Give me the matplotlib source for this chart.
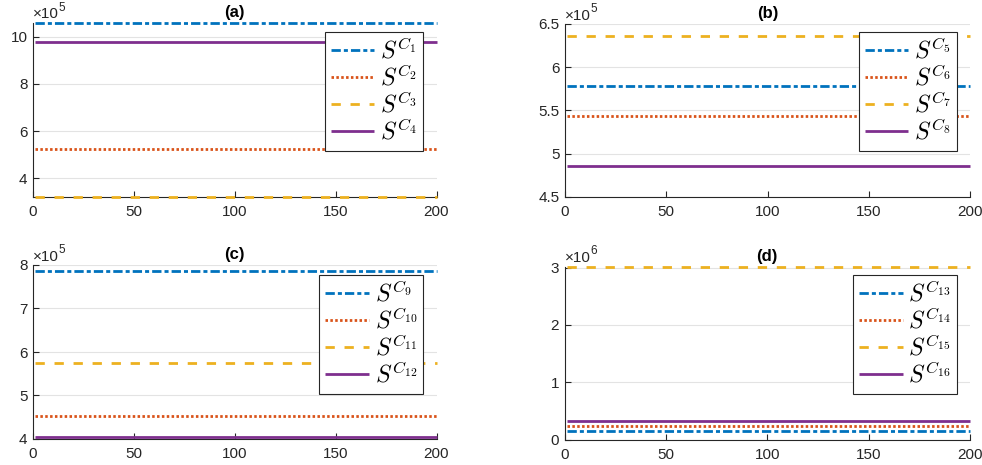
import numpy as np
import matplotlib
matplotlib.use("Agg")
import matplotlib.pyplot as plt
from matplotlib.ticker import FuncFormatter

plt.rcParams['font.family'] = ['Liberation Sans', 'DejaVu Sans']
plt.rcParams['mathtext.fontset'] = 'cm'
plt.rcParams['lines.scale_dashes'] = False

# ---- data ----
steps = np.arange(1, 201)
panel_titles = ['(a)', '(b)', '(c)', '(d)']
series_labels = [
    [r'$S^{C_{1}}$', r'$S^{C_{2}}$', r'$S^{C_{3}}$', r'$S^{C_{4}}$'],
    [r'$S^{C_{5}}$', r'$S^{C_{6}}$', r'$S^{C_{7}}$', r'$S^{C_{8}}$'],
    [r'$S^{C_{9}}$', r'$S^{C_{10}}$', r'$S^{C_{11}}$', r'$S^{C_{12}}$'],
    [r'$S^{C_{13}}$', r'$S^{C_{14}}$', r'$S^{C_{15}}$', r'$S^{C_{16}}$'],
]
values_a = [10.6e5, 5.23e5, 3.2e5, 9.8e5]
values_b = [5.78e5, 5.43e5, 6.36e5, 4.85e5]
values_c = [7.87e5, 4.52e5, 5.75e5, 4.04e5]
values_d = [0.157e6, 0.238e6, 3.02e6, 0.33e6]
ylims = [(3.2e5, 10.6e5), (4.5e5, 6.5e5), (4.0e5, 8.0e5), (0.0, 3.02e6)]
yticks = [[4e5, 6e5, 8e5, 10e5], [4.5e5, 5e5, 5.5e5, 6e5, 6.5e5],
          [4e5, 5e5, 6e5, 7e5, 8e5], [0, 1e6, 2e6, 3e6]]
exponents = [5, 5, 5, 6]
xticks = [0, 50, 100, 150, 200]

colors = ['#0072BD', '#D95319', '#EDB120', '#7E2F8E']
styles = [(0, (6.7, 2.2, 2.9, 2.2)), (0, (1.8, 1.7)), (0, (6.7, 7.0)), '-']

W, H = 982, 465
fig = plt.figure(figsize=(W / 100, H / 100), dpi=100)

# axes boxes in pixels: left, right, top, bottom
boxes = [(33, 436.5, 22.7, 197), (565, 970, 24, 196.7),
         (33, 436.5, 265, 439), (564.5, 970, 266.5, 439.7)]
# legend upper-right corners in pixels
leg_corners = [(423, 32), (957, 32), (423, 275), (957, 275)]

all_values = [values_a, values_b, values_c, values_d]
axcol = '#262626'
for i in range(4):
    l, r, t, b = boxes[i]
    ax = fig.add_axes([l / W, 1 - b / H, (r - l) / W, (b - t) / H])
    for j in range(4):
        ax.plot(steps, np.full(steps.shape, all_values[i][j], dtype=float),
                color=colors[j], linestyle=styles[j], lw=2.0,
                dash_capstyle='butt', solid_capstyle='butt',
                label=series_labels[i][j], clip_on=False, zorder=3)
    ax.set_xlim(0, 200)
    ax.set_ylim(*ylims[i])
    ax.set_xticks(xticks)
    ax.set_yticks(yticks[i])
    e = exponents[i]
    ax.yaxis.set_major_formatter(FuncFormatter(lambda v, p, e=e: '%g' % round(v / 10 ** e, 6)))
    ax.grid(axis='y', color='#e3e3e3', lw=0.8)
    ax.set_axisbelow(True)
    for s in ['top', 'right']:
        ax.spines[s].set_visible(False)
    for s in ['left', 'bottom']:
        ax.spines[s].set_color(axcol)
        ax.spines[s].set_linewidth(0.8)
        ax.spines[s].set_zorder(2)
    ax.tick_params(direction='in', length=4, width=0.8, colors=axcol,
                   labelsize=11, labelcolor=axcol)
    ax.tick_params(axis='x', pad=6)
    ax.tick_params(axis='y', pad=4)
    ax.set_title(panel_titles[i], fontsize=12, fontweight='bold', color='black', pad=4)
    t1 = ax.annotate('\u00d710', xy=(0.0, 1.0), xycoords='axes fraction',
                     xytext=(0, 1), textcoords='offset points',
                     ha='left', va='bottom', fontsize=11, color=axcol)
    ax.annotate(str(e), xy=(1.0, 0.55), xycoords=t1, ha='left', va='bottom',
                fontsize=8.5, color=axcol)
    cx, cy = leg_corners[i]
    leg = ax.legend(loc='upper right', bbox_to_anchor=(cx / W, 1 - cy / H),
                    bbox_transform=fig.transFigure, fontsize=17,
                    handlelength=1.85, handletextpad=0.25, labelspacing=0.06,
                    borderpad=0.25, borderaxespad=0, fancybox=False,
                    framealpha=1, edgecolor=axcol)
    leg.get_frame().set_linewidth(0.8)
    leg.set_zorder(5)

fig.savefig('out.png', dpi=100)
